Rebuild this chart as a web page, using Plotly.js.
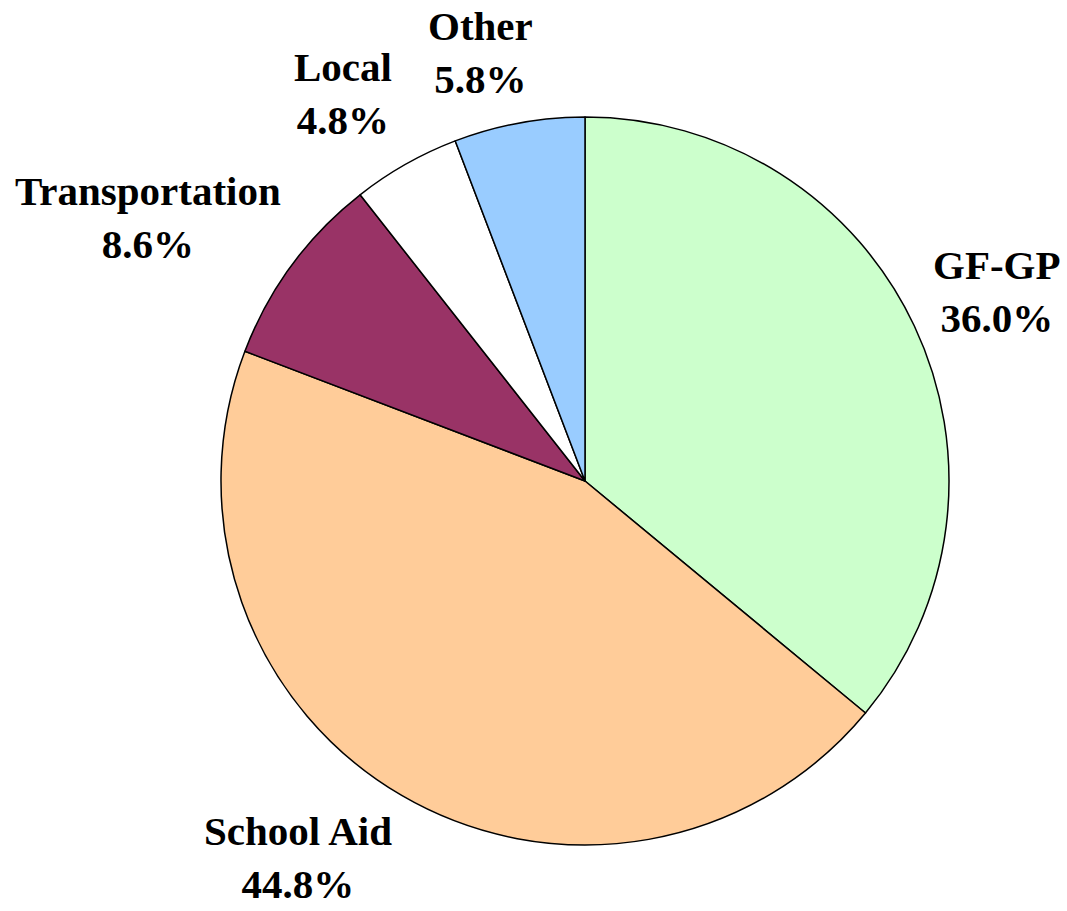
<!DOCTYPE html>
<html>
<head>
<meta charset="utf-8">
<script src="https://cdn.plot.ly/plotly-3.0.1.min.js"></script>
<style>html,body{margin:0;padding:0;background:#fff;}#chart{width:1067px;height:911px;}</style>
</head>
<body>
<div id="chart"></div>
<script>
const categories = ["GF-GP", "School Aid", "Transportation", "Local", "Other"];
const values = [36.0, 44.8, 8.6, 4.8, 5.8];
const colors = ["#CCFFCC", "#FFCC99", "#993366", "#FFFFFF", "#99CCFF"];

// layout-only nudges (pixels) for the outside label placement
const labelNudgeX = [0, -42, -14, -25, -24];
const labelNudgeY = [0, -8, 0, 0, 9];

const W = 1067, H = 911;
const margin = { l: 221, r: 118, t: 117, b: 66, pad: 0 };
const fontFamily = "Liberation Serif, Times New Roman, serif";
const fontSize = 41;
const lineH = fontSize * 1.3;
const gap = 28;

const plotW = W - margin.l - margin.r;
const plotH = H - margin.t - margin.b;
const cx = margin.l + plotW / 2;
const cy = margin.t + plotH / 2;
const R = Math.min(plotW, plotH) / 2;

const ctx = document.createElement("canvas").getContext("2d");
ctx.font = "bold " + fontSize + "px " + fontFamily;

const total = values.reduce((a, b) => a + b, 0);
const annotations = [];
let cum = 0;
values.forEach((v, i) => {
  const pctText = (v / total * 100).toFixed(1) + "%";
  const mid = (cum + v / 2) / total * 2 * Math.PI;
  cum += v;
  const s = Math.sin(mid), c = Math.cos(mid);
  const w = Math.max(ctx.measureText(categories[i]).width, ctx.measureText(pctText).width);
  const h = lineH * 2;
  const px = cx + (R + gap) * s + (w / 2) * s + labelNudgeX[i];
  const py = cy - (R + gap) * c - (h / 2) * c + labelNudgeY[i];
  annotations.push({
    xref: "paper", yref: "paper",
    x: (px - margin.l) / plotW,
    y: 1 - (py - margin.t) / plotH,
    xanchor: "center", yanchor: "middle",
    text: categories[i] + "<br>" + pctText,
    showarrow: false,
    align: "center",
    borderpad: 0,
    font: { family: fontFamily, size: fontSize, color: "#000000", weight: "bold" }
  });
});

const trace = {
  type: "pie",
  labels: categories,
  values: values,
  sort: false,
  direction: "clockwise",
  rotation: 0,
  marker: { colors: colors, line: { color: "#000000", width: 1.5 } },
  textposition: "none",
  hoverinfo: "none",
  showlegend: false
};

const layout = {
  width: W,
  height: H,
  margin: margin,
  paper_bgcolor: "#ffffff",
  plot_bgcolor: "#ffffff",
  showlegend: false,
  annotations: annotations
};

Plotly.newPlot("chart", [trace], layout, { displayModeBar: false, staticPlot: true });
</script>
</body>
</html>
